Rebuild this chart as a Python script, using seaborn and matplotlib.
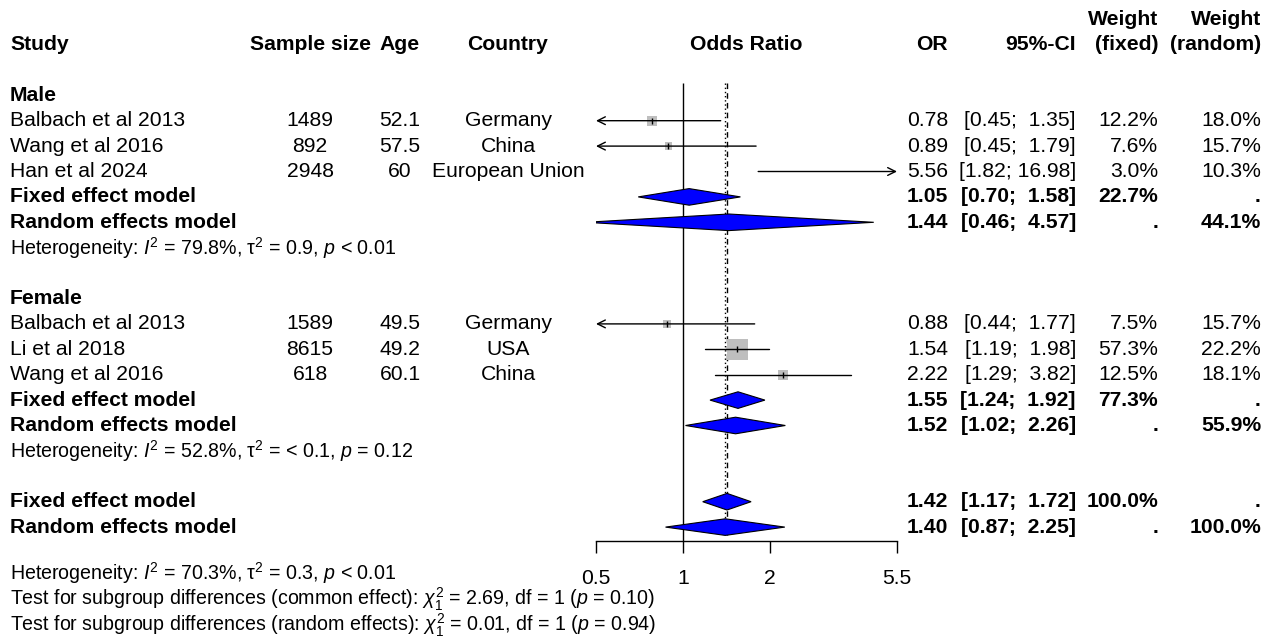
import numpy as np
import pandas as pd
import matplotlib
matplotlib.use("Agg")
import matplotlib.pyplot as plt
from matplotlib.ticker import NullLocator
import seaborn as sns

# ---- study level data ----
male_study = ["Balbach et al 2013", "Wang et al 2016", "Han et al 2024"]
male_n = [1489, 892, 2948]
male_age = ["52.1", "57.5", "60"]
male_country = ["Germany", "China", "European Union"]
male_or = [0.78, 0.89, 5.56]
male_lo = [0.45, 0.45, 1.82]
male_hi = [1.35, 1.79, 16.98]
male_wf = [12.2, 7.6, 3.0]
male_wr = [18.0, 15.7, 10.3]

female_study = ["Balbach et al 2013", "Li et al 2018", "Wang et al 2016"]
female_n = [1589, 8615, 618]
female_age = ["49.5", "49.2", "60.1"]
female_country = ["Germany", "USA", "China"]
female_or = [0.88, 1.54, 2.22]
female_lo = [0.44, 1.19, 1.29]
female_hi = [1.77, 1.98, 3.82]
female_wf = [7.5, 57.3, 12.5]
female_wr = [15.7, 22.2, 18.1]

# ---- pooled estimates (fixed, random) ----
male_pool_or = [1.05, 1.44]
male_pool_lo = [0.70, 0.46]
male_pool_hi = [1.58, 4.57]
male_pool_w = [22.7, 44.1]

female_pool_or = [1.55, 1.52]
female_pool_lo = [1.24, 1.02]
female_pool_hi = [1.92, 2.26]
female_pool_w = [77.3, 55.9]

overall_or = [1.42, 1.40]
overall_lo = [1.17, 0.87]
overall_hi = [1.72, 2.25]
overall_w = [100.0, 100.0]

# heterogeneity: I2, tau2, p
male_het = ["79.8%", "0.9", "< 0.01"]
female_het = ["52.8%", "< 0.1", "= 0.12"]
overall_het = ["70.3%", "0.3", "< 0.01"]
subgroup_common = ["2.69", "1", "0.10"]
subgroup_random = ["0.01", "1", "0.94"]

x_ticks = [0.5, 1, 2, 5.5]
x_ticklabels = ["0.5", "1", "2", "5.5"]

# ---- layout (pixels) ----
W, H = 1264, 641
Y0, STEP = 120.7, 25.4
FS, FS_HET = 15.2, 14.1
X_STUDY, X_N, X_AGE, X_COUNTRY = 10, 310, 400, 508
X_OR, X_CI, X_WF, X_WR = 948, 1076, 1158, 1261
AX_L, AX_R = 596, 897
AXIS_Y = 541
HALF_D = 8.3


def row_y(r):
    return Y0 + STEP * r


sns.set_theme(style="white")
plt.rcParams["font.family"] = ["Liberation Sans", "DejaVu Sans"]
plt.rcParams["mathtext.fontset"] = "custom"
plt.rcParams["mathtext.rm"] = "Liberation Sans"
plt.rcParams["mathtext.it"] = "Liberation Sans:italic"

fig = plt.figure(figsize=(W / 100, H / 100), dpi=100)
tx = fig.add_axes([0, 0, 1, 1])
tx.set_xlim(0, W)
tx.set_ylim(H, 0)
tx.axis("off")

ax = fig.add_axes([AX_L / W, 0, (AX_R - AX_L) / W, 1])
ax.patch.set_alpha(0)


def txt(x, y, s, ha="left", bold=False, size=FS, va="center"):
    tx.text(x, y, s, ha=ha, va=va, fontsize=size,
            fontweight="bold" if bold else "normal", color="black")


def het_text(y, vals, va="center"):
    i2, t2, p = vals
    s = r"Heterogeneity: $I^2$ = " + i2 + r", τ$^2$ = " + t2 + r", $p$ " + p
    txt(X_STUDY, y, s, size=FS_HET, va=va)


# header
txt(X_STUDY, row_y(-3), "Study", bold=True)
txt(X_N, row_y(-3), "Sample size", ha="center", bold=True)
txt(X_AGE, row_y(-3), "Age", ha="center", bold=True)
txt(X_COUNTRY, row_y(-3), "Country", ha="center", bold=True)
txt((AX_L + AX_R) / 2, row_y(-3), "Odds Ratio", ha="center", bold=True)
txt(X_OR, row_y(-3), "OR", ha="right", bold=True)
txt(X_CI, row_y(-3), "95%-CI", ha="right", bold=True)
txt(X_WF, row_y(-4), "Weight", ha="right", bold=True)
txt(X_WF, row_y(-3), "(fixed)", ha="right", bold=True)
txt(X_WR, row_y(-4), "Weight", ha="right", bold=True)
txt(X_WR, row_y(-3), "(random)", ha="right", bold=True)

groups = [
    ("Male", 0, male_study, male_n, male_age, male_country, male_or, male_lo, male_hi,
     male_wf, male_wr, male_pool_or, male_pool_lo, male_pool_hi, male_pool_w, male_het),
    ("Female", 8, female_study, female_n, female_age, female_country, female_or, female_lo,
     female_hi, female_wf, female_wr, female_pool_or, female_pool_lo, female_pool_hi,
     female_pool_w, female_het),
]

rows = []
pooled = []
for (name, r0, st, n, age, ctry, est, lo, hi, wf, wr, p_or, p_lo, p_hi, p_w, het) in groups:
    txt(X_STUDY, row_y(r0 - 1), name, bold=True)
    for i in range(len(st)):
        y = row_y(r0 + i)
        txt(X_STUDY, y, st[i])
        txt(X_N, y, str(n[i]), ha="center")
        txt(X_AGE, y, age[i], ha="center")
        txt(X_COUNTRY, y, ctry[i], ha="center")
        txt(X_OR, y, f"{est[i]:.2f}", ha="right")
        txt(X_CI, y, f"[{lo[i]:.2f}; {hi[i]:5.2f}]", ha="right")
        txt(X_WF, y, f"{wf[i]:.1f}%", ha="right")
        txt(X_WR, y, f"{wr[i]:.1f}%", ha="right")
        rows.append(dict(est=est[i], lo=lo[i], hi=hi[i], w=wf[i], y=y))
    for k, label in enumerate(["Fixed effect model", "Random effects model"]):
        y = row_y(r0 + len(st) + k)
        txt(X_STUDY, y, label, bold=True)
        txt(X_OR, y, f"{p_or[k]:.2f}", ha="right", bold=True)
        txt(X_CI, y, f"[{p_lo[k]:.2f}; {p_hi[k]:5.2f}]", ha="right", bold=True)
        txt(X_WF, y, f"{p_w[k]:.1f}%" if k == 0 else ".", ha="right", bold=True)
        txt(X_WR, y, f"{p_w[k]:.1f}%" if k == 1 else ".", ha="right", bold=True)
        pooled.append((p_or[k], p_lo[k], p_hi[k], y))
    het_text(row_y(r0 + len(st) + 2), het)

# overall
for k, label in enumerate(["Fixed effect model", "Random effects model"]):
    y = row_y(15 + k)
    txt(X_STUDY, y, label, bold=True)
    txt(X_OR, y, f"{overall_or[k]:.2f}", ha="right", bold=True)
    txt(X_CI, y, f"[{overall_lo[k]:.2f}; {overall_hi[k]:5.2f}]", ha="right", bold=True)
    txt(X_WF, y, f"{overall_w[k]:.1f}%" if k == 0 else ".", ha="right", bold=True)
    txt(X_WR, y, f"{overall_w[k]:.1f}%" if k == 1 else ".", ha="right", bold=True)
    pooled.append((overall_or[k], overall_lo[k], overall_hi[k], y))

# bottom block, placed on baselines
het_text(580, overall_het, va="baseline")
txt(X_STUDY, 605.5, r"Test for subgroup differences (common effect): $\chi^2_1$ = "
    + subgroup_common[0] + ", df = " + subgroup_common[1] + r" ($p$ = " + subgroup_common[2] + ")",
    size=FS_HET, va="baseline")
txt(X_STUDY, 631.5, r"Test for subgroup differences (random effects): $\chi^2_1$ = "
    + subgroup_random[0] + ", df = " + subgroup_random[1] + r" ($p$ = " + subgroup_random[2] + ")",
    size=FS_HET, va="baseline")

# ---- forest panel ----
df = pd.DataFrame(rows)
xmin, xmax = x_ticks[0], x_ticks[-1]
inside = df[(df["est"] >= xmin) & (df["est"] <= xmax)]
sns.scatterplot(data=inside, x="est", y="y", size="w", sizes=(0, 235), size_norm=(0, 57.3),
                marker="s", color="#bebebe", edgecolor="none", legend=False, ax=ax, zorder=3)
ax.scatter(inside["est"], inside["y"], marker="|", s=22, color="black", linewidths=1, zorder=5)

arrow_kw = dict(lw=1, color="black", shrinkA=0, shrinkB=0, mutation_scale=14)
for _, r in df.iterrows():
    a, b = max(r["lo"], xmin), min(r["hi"], xmax)
    left, right = r["lo"] < xmin, r["hi"] > xmax
    if left and right:
        ax.annotate("", xy=(b, r["y"]), xytext=(a, r["y"]),
                    arrowprops=dict(arrowstyle="<->", **arrow_kw))
    elif left:
        ax.annotate("", xy=(a, r["y"]), xytext=(b, r["y"]),
                    arrowprops=dict(arrowstyle="->", **arrow_kw))
    elif right:
        ax.annotate("", xy=(b, r["y"]), xytext=(a, r["y"]),
                    arrowprops=dict(arrowstyle="->", **arrow_kw))
    else:
        ax.plot([a, b], [r["y"], r["y"]], color="black", lw=1, zorder=4)

for est, lo, hi, y in pooled:
    ax.fill([lo, est, hi, est], [y, y - HALF_D, y, y + HALF_D],
            facecolor="#0000ff", edgecolor="black", lw=0.8, zorder=6)

top = row_y(0) - 38
ax.vlines(1, top, AXIS_Y, color="black", lw=1, zorder=2)
ax.vlines(overall_or[0], top, row_y(16) + HALF_D, color="black", lw=1,
          linestyles=(0, (4, 3)), zorder=2)
ax.vlines(overall_or[1], top, row_y(16) + HALF_D, color="black", lw=1,
          linestyles=(0, (1, 2)), zorder=2)

ax.set_xscale("log")
ax.set_xlim(xmin, xmax)
ax.set_ylim(H, 0)
ax.set_xlabel("")
ax.set_ylabel("")
ax.set_yticks([])
ax.set_xticks(x_ticks)
ax.set_xticklabels(x_ticklabels)
ax.xaxis.set_minor_locator(NullLocator())
for s in ["top", "left", "right"]:
    ax.spines[s].set_visible(False)
ax.spines["bottom"].set_position(("data", AXIS_Y))
ax.spines["bottom"].set_color("black")
ax.spines["bottom"].set_linewidth(1)
ax.tick_params(axis="x", direction="out", length=8.6, width=1, labelsize=FS, pad=11.5,
               color="black", labelcolor="black", bottom=True)

fig.savefig("out.png", dpi=100)
